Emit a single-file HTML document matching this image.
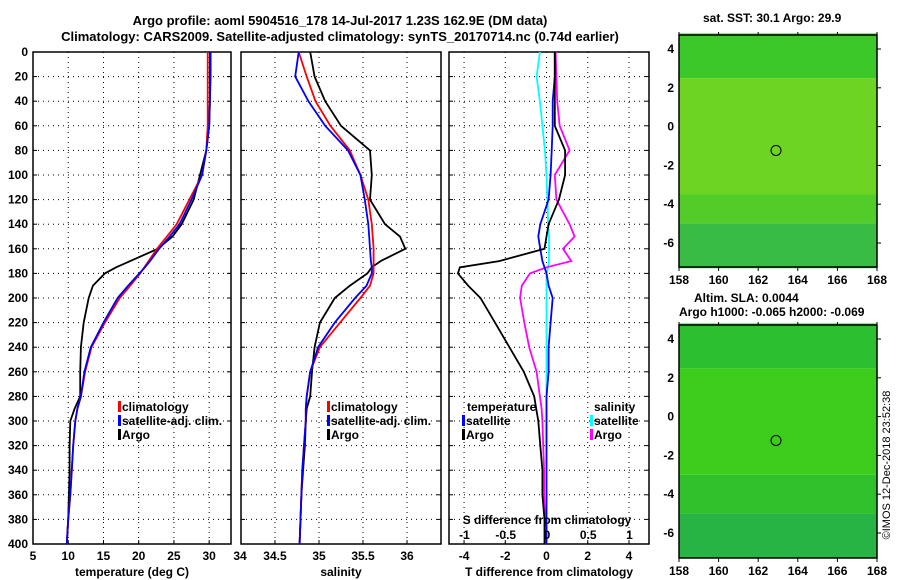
<!DOCTYPE html>
<html><head><meta charset="utf-8"><style>
body{margin:0;background:#fff}
svg{display:block;font-family:"Liberation Sans",sans-serif;font-weight:bold;font-size:12px}
</style></head><body>
<svg id="c" width="900" height="580" viewBox="0 0 900 580">
<text x="340" y="25" text-anchor="middle" font-size="13">Argo profile: aoml 5904516_178 14-Jul-2017 1.23S 162.9E (DM data)</text>
<text x="340" y="41" text-anchor="middle" font-size="13">Climatology: CARS2009. Satellite-adjusted climatology: synTS_20170714.nc (0.74d earlier)</text>
<text x="890" y="465" transform="rotate(-90 890 465)" text-anchor="middle" font-size="11" font-weight="normal">©IMOS 12-Dec-2018 23:52:38</text>
</svg>
<script>
const depths=[0,20,40,60,80,100,120,140,150,160,170,175,180,190,200,220,240,260,280,290,300,320,340,360,380,400];
const tArgo=[30.1,30.1,30.1,30.0,29.6,28.7,27.8,26.1,24.8,22.7,18.8,16.8,15.2,13.5,12.9,12.2,11.8,11.7,11.7,10.9,10.3,10.2,10.2,10.1,10.0,9.8];
const tClim=[29.8,29.8,29.8,29.8,29.6,29.0,27.2,25.4,24.0,22.6,21.4,20.8,20.2,18.8,17.3,15.2,13.3,12.4,11.8,11.3,11.0,10.7,10.5,10.3,10.0,9.8];
const tSat=[30.2,30.2,30.1,30.0,29.6,29.0,27.5,25.8,24.4,22.9,21.6,20.9,20.1,18.5,17.0,15.0,13.2,12.3,11.8,11.3,11.0,10.7,10.5,10.3,10.0,9.8];
const sArgo=[34.90,34.95,35.07,35.25,35.58,35.60,35.58,35.75,35.92,35.98,35.70,35.60,35.55,35.35,35.18,35.01,34.95,34.92,34.90,34.86,34.85,34.84,34.82,34.80,34.79,34.78];
const sClim=[34.77,34.86,34.96,35.13,35.35,35.47,35.56,35.60,35.61,35.62,35.62,35.62,35.62,35.58,35.47,35.24,35.01,34.90,34.86,34.85,34.85,34.83,34.81,34.80,34.79,34.78];
const sSat=[34.77,34.73,34.88,35.07,35.33,35.47,35.52,35.56,35.57,35.58,35.59,35.60,35.60,35.54,35.41,35.18,34.99,34.90,34.86,34.85,34.85,34.83,34.81,34.80,34.79,34.78];
const dtArgo=[0.4,0.4,0.4,0.4,0.9,0.9,0.6,0.1,0,-0.1,-2.3,-4.2,-4.3,-3.8,-3.2,-2.5,-1.8,-1.1,-0.6,-0.5,-0.4,-0.3,-0.2,-0.2,-0.1,-0.1];
const dtSat=[0.4,0.4,0.3,0.3,0.25,0.2,0.1,-0.3,-0.4,-0.3,-0.2,-0.1,0,0.1,0.3,0.2,0.1,0.1,0,0,0,0,0,0,0,0];
const dsArgo=[0.11,0.12,0.13,0.16,0.28,0.1,0.12,0.28,0.34,0.2,0.3,0.0,-0.2,-0.3,-0.32,-0.27,-0.21,-0.12,-0.08,-0.06,-0.05,-0.04,-0.03,-0.03,-0.02,-0.02];
const dsSat=[-0.08,-0.12,-0.08,-0.05,-0.02,0.0,0.01,0.02,0.03,0.03,0.03,0.02,0.0,0.0,0.0,0.0,0.0,0.0,0.0,0.0,0.0,0.0,0.0,0.0,0.0,0.0];
const yTicks=[0,20,40,60,80,100,120,140,160,180,200,220,240,260,280,300,320,340,360,380,400];
const tTicks=[5,10,15,20,25,30];
const sTicks=[34.5,35,35.5,36];
const dTicks=[-4,-2,0,2,4];
const sdTicks=[-1,-0.5,0,0.5,1];
const lonTicks=[158,160,162,164,166,168];
const latTicks=[4,2,0,-2,-4,-6];

const svg=document.getElementById('c');const NS='http://www.w3.org/2000/svg';
function mk(t,a,parent){const e=document.createElementNS(NS,t);for(const k in a)e.setAttribute(k,a[k]);(parent||svg).appendChild(e);return e;}
const Y0=52,Y1=544;const yS=d=>Y0+(d/400)*(Y1-Y0);
function panel(name,x0,x1,xmin,xmax,ticks,lbl,xlabel){
  const xS=v=>x0+(v-xmin)/(xmax-xmin)*(x1-x0);
  const g=mk('g',{});
  yTicks.forEach(d=>{if(d>0&&d<400){const l=mk('line',{x1:x0,x2:x1,y1:yS(d),y2:yS(d),stroke:'#000','stroke-width':1,'stroke-dasharray':'1,4'},g);}
    mk('line',{x1:x0,x2:x0+4,y1:yS(d),y2:yS(d),stroke:'#000'},g);mk('line',{x1:x1-4,x2:x1,y1:yS(d),y2:yS(d),stroke:'#000'},g);});
  ticks.forEach((v,i)=>{const x=xS(v);if(x>x0+1&&x<x1-1){const l=mk('line',{x1:x,x2:x,y1:Y0,y2:Y1,stroke:'#000','stroke-dasharray':'1,4'},g);}
    mk('line',{x1:x,x2:x,y1:Y1-4,y2:Y1,stroke:'#000'},g);
    const t=mk('text',{x:x,y:560,'text-anchor':'middle'},g);t.textContent=lbl?lbl[i]:v;});
  mk('rect',{x:x0,y:Y0,width:x1-x0,height:Y1-Y0,fill:'none',stroke:'#000','stroke-width':1.5},g);
  const xl=mk('text',{x:(x0+x1)/2,y:576,'text-anchor':'middle'},g);xl.textContent=xlabel;
  return {xS,g};
}
function line(p,vals,col,name){const pts=vals.map((v,i)=>p.xS(v).toFixed(1)+','+yS(depths[i]).toFixed(1)).join(' ');
  const l=mk('polyline',{points:pts,fill:'none',stroke:col,'stroke-width':1.8},p.g);}
function leg(g,x,y,col,txt,name){mk('rect',{x:x,y:y-10,width:3,height:11,fill:col},g);const t=mk('text',{x:x+4,y:y},g);t.textContent=txt;}
yTicks.forEach(d=>{const t=mk('text',{x:28,y:yS(d)+4,'text-anchor':'end'});t.textContent=d;});
const p1=panel('temperature-panel',33,231,5,33.1,tTicks,null,'temperature (deg C)');
const t34=mk('text',{x:240,y:560,'text-anchor':'middle'});t34.textContent='34';
line(p1,tArgo,'#000','temp-argo-line');line(p1,tClim,'#f00','temp-clim-line');line(p1,tSat,'#00f','temp-sat-line');
leg(p1.g,118,411,'#f00','climatology','legend-climatology');leg(p1.g,118,425,'#00f','satellite-adj. clim.','legend-satellite');leg(p1.g,118,439,'#000','Argo','legend-argo');
const p2=panel('salinity-panel',241,441,34.114,36.386,sTicks,null,'salinity');
line(p2,sArgo,'#000','sal-argo-line');line(p2,sClim,'#f00','sal-clim-line');line(p2,sSat,'#00f','sal-sat-line');
leg(p2.g,327,411,'#f00','climatology','legend-climatology-2');leg(p2.g,327,425,'#00f','satellite-adj. clim.','legend-satellite-2');leg(p2.g,327,439,'#000','Argo','legend-argo-2');
const p3=panel('difference-panel',449,649,-4.73,4.97,dTicks,null,'T difference from climatology');
const sdS=v=>547+v*82.5;
const p3s={xS:v=>p3.xS(v*4),g:p3.g};
line(p3s,dsSat,'#0ff','sdiff-sat-line');line(p3s,dsArgo,'#f0f','sdiff-argo-line');
line(p3,dtSat,'#00f','tdiff-sat-line');line(p3,dtArgo,'#000','tdiff-argo-line');
sdTicks.forEach(v=>{const t=mk('text',{x:sdS(v),y:539,'text-anchor':'middle'},p3.g);t.textContent=v;});
const sl=mk('text',{x:547,y:524,'text-anchor':'middle'},p3.g);sl.textContent='S difference from climatology';
const th=mk('text',{x:467,y:411},p3.g);th.textContent='temperature';
leg(p3.g,462,425,'#00f','satellite','legend-t-satellite');leg(p3.g,462,439,'#000','Argo','legend-t-argo');
const sh=mk('text',{x:594,y:411},p3.g);sh.textContent='salinity';
leg(p3.g,590,425,'#0ff','satellite','legend-s-satellite');leg(p3.g,590,439,'#f0f','Argo','legend-s-argo');
function map(name,y0,y1,lat4y,latm6y,fills,title){
  const x0=679,x1=877;const lonS=v=>x0+(v-158)/10*(x1-x0);const latS=v=>lat4y+(4-v)/10*(latm6y-lat4y);
  const g=mk('g',{});
  fills.forEach(f=>mk('rect',{x:x0,y:latS(f[0]),width:x1-x0,height:latS(f[1])-latS(f[0]),fill:f[2]},g));
  mk('rect',{x:x0,y:y0,width:x1-x0,height:y1-y0,fill:'none',stroke:'#000','stroke-width':1.5},g);
  lonTicks.forEach(v=>{const t=mk('text',{x:lonS(v),y:y1+17,'text-anchor':'middle'},g);t.textContent=v;mk('line',{x1:lonS(v),x2:lonS(v),y1:y1,y2:y1+4,stroke:'#000'},g);mk('line',{x1:lonS(v),x2:lonS(v),y1:y0-3,y2:y0,stroke:'#000'},g);});
  latTicks.forEach(v=>{const t=mk('text',{x:674,y:latS(v)+4,'text-anchor':'end'},g);t.textContent=v;mk('line',{x1:x1,x2:x1+4,y1:latS(v),y2:latS(v),stroke:'#000'},g);});
  const c=mk('circle',{cx:lonS(162.9),cy:latS(-1.23),r:5,fill:'none',stroke:'#000'},g);
  title.forEach((tt,i)=>{const t=mk('text',{x:tt[1],y:tt[2]},g);t.textContent=tt[0];});
}
map('sst-map',35,267,49,243,[[4.8,2.5,'#3cc828'],[2.5,-3.5,'#6ed424'],[-3.5,-5,'#52cc28'],[-5,-7.3,'#38bc44']],[['sat. SST: 30.1 Argo: 29.9',703,22]]);
map('sla-map',325,558,339,533,[[4.8,2.5,'#2cc030'],[2.5,-3,'#3ccc1c'],[-3,-5,'#30c02c'],[-5,-7.3,'#28b444']],[['Altim. SLA: 0.0044',694,302],['Argo h1000: -0.065 h2000: -0.069',679,316]]);
</script>
</body></html>
